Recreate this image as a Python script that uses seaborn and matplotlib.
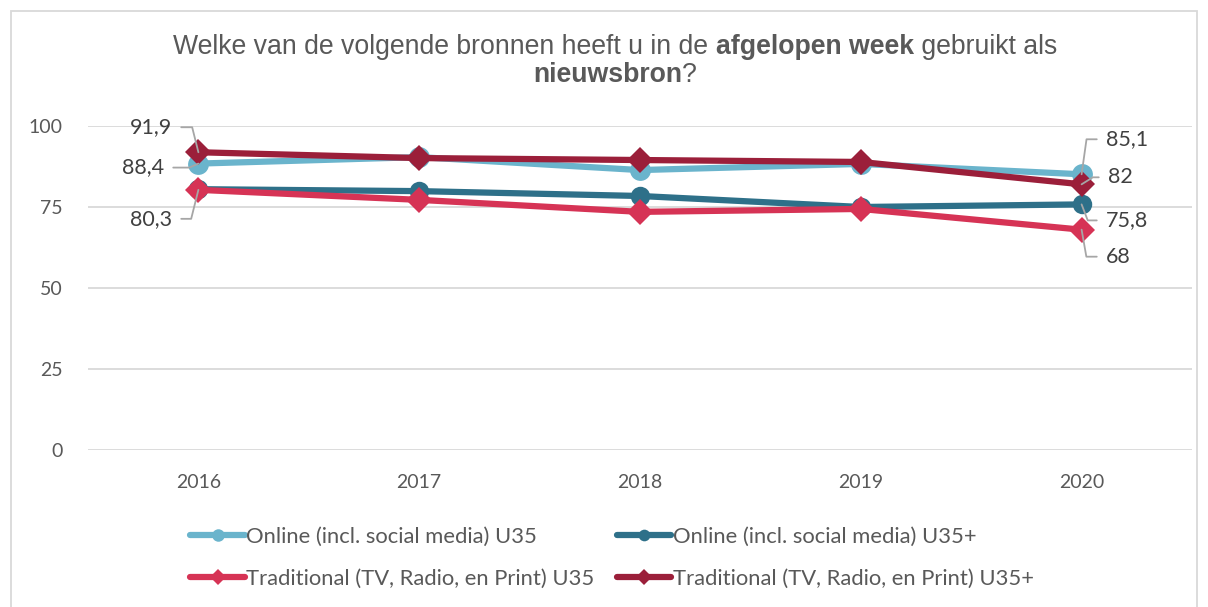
import matplotlib
matplotlib.use("Agg")
import matplotlib.pyplot as plt
import seaborn as sns
import pandas as pd
from matplotlib.lines import Line2D
from matplotlib.patches import Rectangle

years = ["2016", "2017", "2018", "2019", "2020"]
series_names = [
    "Online (incl. social media) U35",
    "Online (incl. social media) U35+",
    "Traditional (TV, Radio, en Print) U35",
    "Traditional (TV, Radio, en Print) U35+",
]
online_u35 = [88.4, 90.4, 86.4, 88.3, 85.1]
online_u35p = [80.5, 79.9, 78.4, 75.0, 75.8]
trad_u35 = [80.3, 77.2, 73.5, 74.4, 68.0]
trad_u35p = [91.9, 90.1, 89.5, 88.9, 82.0]
values = [online_u35, online_u35p, trad_u35, trad_u35p]

colors = ["#6AB4CC", "#2E7089", "#D63355", "#9B1F3A"]
markers = ["o", "o", "D", "D"]
msizes = [15, 14, 13.5, 13.5]

# data labels: (series index, year index, text, offset px (dx, dy) of text anchor, side, elbow angle)
labels = [
    (3, 0, "91,9", (-26, 25), "left", 104),
    (0, 0, "88,4", (-34, -4), "left", 204),
    (2, 0, "80,3", (-26, -29), "left", 256),
    (0, 4, "85,1", (24, 35), "right", 82),
    (3, 4, "82", (26, 7), "right", 32),
    (1, 4, "75,8", (24, -16), "right", 291),
    (2, 4, "68", (24, -27), "right", 280),
]

sns.set_theme(style="white")
plt.rcParams["font.family"] = ["Lato", "DejaVu Sans"]

W, H = 1208, 607
fig = plt.figure(figsize=(W / 100, H / 100), dpi=100)
ax = fig.add_axes([88 / W, 1 - 450 / H, (1192 - 88) / W, (450 - 126) / H])

rows = []
for name, vals in zip(series_names, values):
    for i, (y, v) in enumerate(zip(years, vals)):
        rows.append({"series": name, "x": i, "value": v})
df = pd.DataFrame(rows)

for k, name in enumerate(series_names):
    sub = df[df["series"] == name]
    sns.lineplot(data=sub, x="x", y="value", ax=ax, color=colors[k], linewidth=4.5,
                 marker=markers[k], markersize=msizes[k], markeredgewidth=0,
                 zorder=3 + k, clip_on=False, legend=False)

ax.set_xlim(-0.5, 4.5)
ax.set_ylim(0, 100)
ax.set_yticks([0, 25, 50, 75, 100])
ax.set_xticks(range(len(years)))
ax.set_xticklabels(years)
ax.grid(axis="y", color="#D9D9D9", linewidth=1.3)
ax.grid(axis="x", visible=False)
for s in ax.spines.values():
    s.set_visible(False)
ax.tick_params(axis="both", length=0, labelsize=14, colors="#595959")
ax.tick_params(axis="y", pad=18.5)
ax.tick_params(axis="x", pad=17.5)
ax.set_xlabel("")
ax.set_ylabel("")

for si, xi, txt, (dx, dy), side, ang in labels:
    yv = values[si][xi]
    ha = "right" if side == "left" else "left"
    relpos = (1, 0.5) if side == "left" else (0, 0.5)
    ax.annotate(txt, xy=(xi, yv), xytext=(dx, dy), textcoords="offset pixels",
                ha=ha, va="center", fontsize=15.5, color="#404040",
                annotation_clip=False, zorder=10,
                arrowprops=dict(arrowstyle="-", color="#A6A6A6", lw=1.3,
                                connectionstyle=f"angle,angleA=0,angleB={ang},rad=0",
                                relpos=relpos, shrinkA=4, shrinkB=0))

handles = [Line2D([0], [0], color=c, lw=4.5, marker=m, markersize=ms * 0.6, markeredgewidth=0)
           for c, m, ms in zip(colors, markers, msizes)]
order = [0, 2, 1, 3]
fig.legend([handles[i] for i in order], [series_names[i] for i in order],
           ncol=2, loc="center", bbox_to_anchor=(612 / W, 1 - 558 / H),
           frameon=False, fontsize=15.8, labelcolor="#595959", handlelength=2.5,
           handletextpad=0.05, columnspacing=1.0, labelspacing=1.0)

fig.patches.append(Rectangle((11 / W, -0.1), (1197 - 11) / W, 1.1 - 11 / H,
                             transform=fig.transFigure, fill=False,
                             edgecolor="#D9D9D9", linewidth=1.3))

# Title with mixed bold
title_lines = [
    [("Welke van de volgende bronnen heeft u in de ", "normal"), ("afgelopen week", "bold"), (" gebruikt als", "normal")],
    [("nieuwsbron", "bold"), ("?", "normal")],
]
title_y = [47, 75]
fig.canvas.draw()
renderer = fig.canvas.get_renderer()
for parts, yy in zip(title_lines, title_y):
    texts = []
    for t, w in parts:
        tx = fig.text(0, 1 - yy / H, t, fontsize=19.2, fontweight=w, color="#595959",
                      family=["Liberation Sans", "DejaVu Sans"], ha="left", va="center")
        texts.append(tx)
    widths = [tx.get_window_extent(renderer).width for tx in texts]
    total = sum(widths)
    x0 = 615 - total / 2
    for tx, w in zip(texts, widths):
        tx.set_x(x0 / W)
        x0 += w

fig.savefig("out.png", dpi=100)
